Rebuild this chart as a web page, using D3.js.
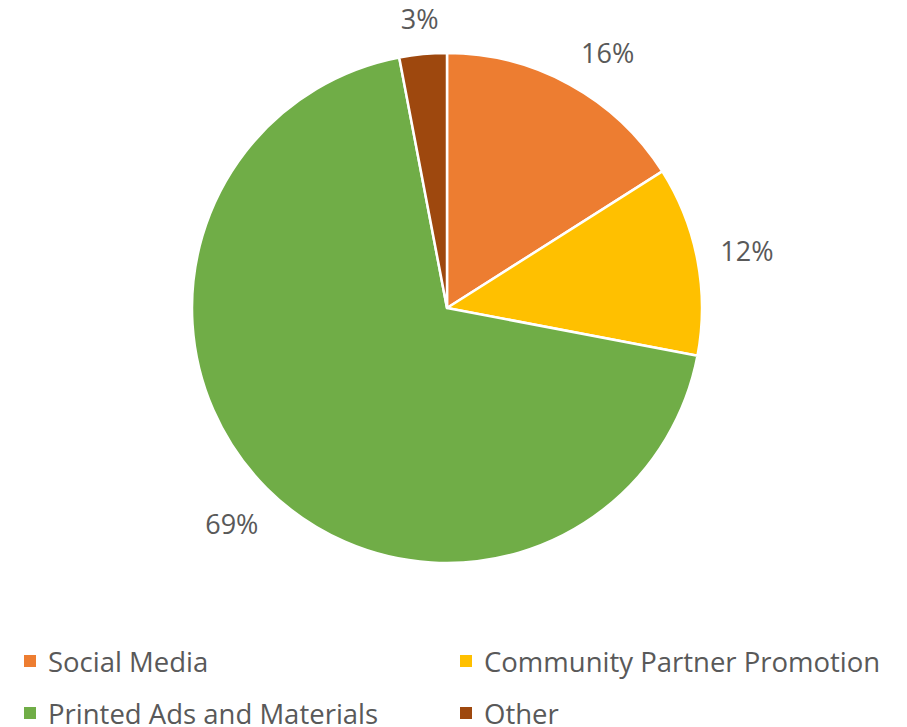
<!DOCTYPE html>
<html>
<head>
<meta charset="utf-8">
<script src="https://cdn.jsdelivr.net/npm/d3@7"></script>
<style>
  body { margin: 0; background: #fff; }
  text { font-family: "Open Sans", Lato, sans-serif; fill: #595959; }
</style>
</head>
<body>
<svg id="chart" width="907" height="727"></svg>
<script>
const categories = ['Social Media', 'Community Partner Promotion', 'Printed Ads and Materials', 'Other'];
const values = [16, 12, 69, 3];
const colors = ['#ED7D31', '#FFC000', '#70AD47', '#9E480E'];

const width = 907, height = 727;
const cx = 447, cy = 308, radius = 255;
const labelGap = 22;

const svg = d3.select('#chart');

const data = categories.map((c, i) => ({ name: c, value: values[i] }));

const pie = d3.pie()
    .value(d => d.value)
    .sort(null);

const arc = d3.arc()
    .innerRadius(0)
    .outerRadius(radius);

const color = d3.scaleOrdinal()
    .domain(categories)
    .range(colors);

const g = svg.append('g')
    .attr('transform', `translate(${cx}, ${cy})`);

const arcs = pie(data);

g.selectAll('path.slice')
    .data(arcs)
    .join('path')
    .attr('class', 'slice')
    .attr('d', arc)
    .attr('fill', d => color(d.data.name))
    .attr('stroke', '#fff')
    .attr('stroke-width', 2.5)
    .attr('stroke-linejoin', 'round');

// labels sit outside the pie, pushed out so the box clears the edge
const labels = g.selectAll('text.pct')
    .data(arcs)
    .join('text')
    .attr('class', 'pct')
    .attr('text-anchor', 'middle')
    .attr('dominant-baseline', 'central')
    .style('font-size', '27px')
    .text(d => d.data.value + '%');

labels.each(function(d) {
    const box = this.getBBox();
    const a = (d.startAngle + d.endAngle) / 2;
    const ux = Math.sin(a), uy = -Math.cos(a);
    const dist = radius + labelGap + Math.abs(ux) * box.width / 2 + Math.abs(uy) * box.height / 2 * 0.65;
    let x = ux * dist, y = uy * dist;
    // right-side labels drift a bit further out/down like the original
    if (ux > 0.3 && uy < -0.5) { x += 16; y += 8; }
    d3.select(this).attr('x', x).attr('y', y);
});

// legend, two columns
const legendCols = [30, 466];
const legendRows = [661, 713];

const legend = svg.selectAll('g.legend')
    .data(data)
    .join('g')
    .attr('class', 'legend')
    .attr('transform', (d, i) => `translate(${legendCols[i % 2]}, ${legendRows[Math.floor(i / 2)]})`);

legend.append('rect')
    .attr('x', -6)
    .attr('y', -6)
    .attr('width', 12)
    .attr('height', 12)
    .attr('fill', d => color(d.name));

legend.append('text')
    .attr('x', 18)
    .attr('dominant-baseline', 'central')
    .style('font-size', '27.5px')
    .text(d => d.name);
</script>
</body>
</html>
